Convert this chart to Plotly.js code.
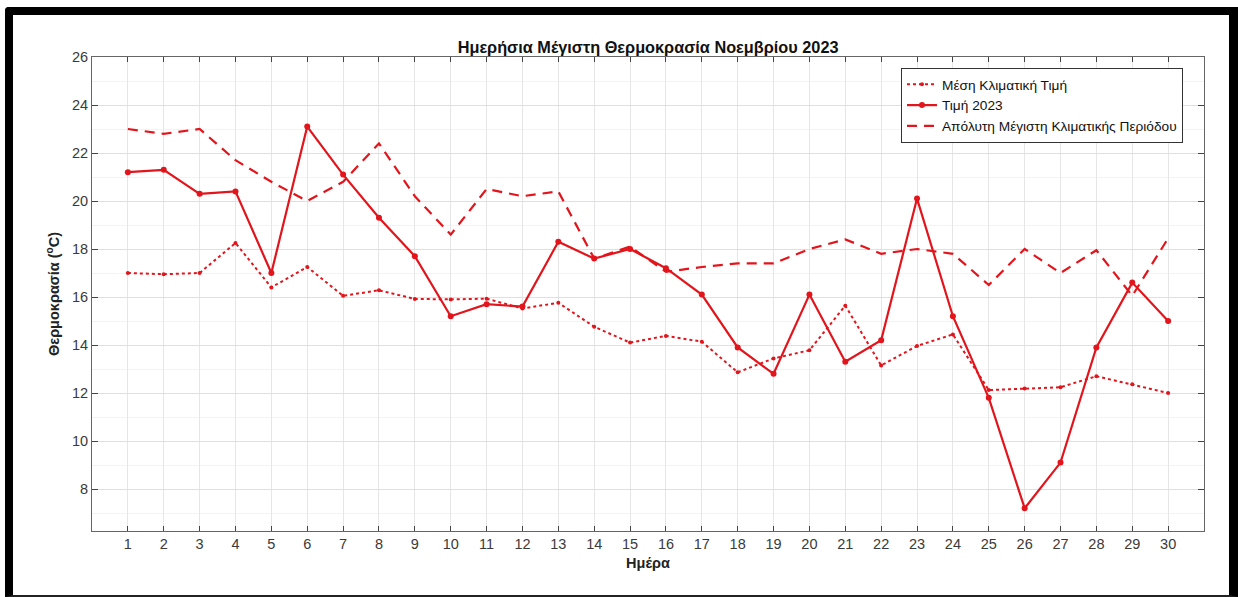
<!DOCTYPE html>
<html>
<head>
<meta charset="utf-8">
<script src="https://cdn.plot.ly/plotly-3.0.1.min.js"></script>
<style>
  html, body { margin: 0; padding: 0; background: #fff; }
  #graph { position: absolute; left: 0; top: 0; width: 1238px; height: 597px; }
  #frame {
    position: absolute; left: 5px; top: 7px; width: 1233px; height: 590px;
    box-sizing: border-box; pointer-events: none;
    border-top: 8px solid #000; border-left: 8px solid #000;
    border-right: 9px solid #000; border-bottom: 2px solid #222;
    border-top-left-radius: 4px;
  }
</style>
</head>
<body>
<div id="graph"></div>
<div id="frame"></div>
<script>
// Ημέρες Νοεμβρίου
var days = [];
for (var d = 1; d <= 30; d++) days.push(d);

var meanClim = [17.0, 16.95, 17.0, 18.25, 16.4, 17.25, 16.05, 16.28, 15.92, 15.9,
                15.93, 15.52, 15.76, 14.76, 14.1, 14.38, 14.14, 12.86, 13.44, 13.78,
                15.64, 13.15, 13.96, 14.44, 12.12, 12.19, 12.24, 12.7, 12.36, 12.0];

var value2023 = [21.2, 21.3, 20.3, 20.4, 17.0, 23.1, 21.1, 19.3, 17.7, 15.2,
                 15.7, 15.6, 18.3, 17.6, 18.0, 17.2, 16.1, 13.9, 12.8, 16.1,
                 13.3, 14.2, 20.1, 15.2, 11.8, 7.2, 9.1, 13.9, 16.6, 15.0];

var absMax = [23.0, 22.8, 23.0, 21.7, 20.8, 20.0, 20.8, 22.4, 20.2, 18.6,
              20.5, 20.2, 20.4, 17.6, 18.1, 17.05, 17.25, 17.4, 17.4, 18.0,
              18.4, 17.8, 18.0, 17.8, 16.5, 18.0, 17.0, 17.95, 16.05, 18.45];

var yTicks = [8, 10, 12, 14, 16, 18, 20, 22, 24, 26];
var yMinor = [7, 9, 11, 13, 15, 17, 19, 21, 23, 25];

var red = '#e2151c';
var fam = 'Liberation Sans, Arial, sans-serif';

var traces = [
    {
        x: days, y: meanClim, name: 'Μέση Κλιματική Τιμή',
        type: 'scatter', mode: 'lines+markers',
        line: { color: red, width: 2, dash: 'dot' },
        marker: { color: red, size: 4 }
    },
    {
        x: days, y: value2023, name: 'Τιμή 2023',
        type: 'scatter', mode: 'lines+markers',
        line: { color: red, width: 2.2 },
        marker: { color: red, size: 6 }
    },
    {
        x: days, y: absMax, name: 'Απόλυτη Μέγιστη Κλιματικής Περιόδου',
        type: 'scatter', mode: 'lines',
        line: { color: red, width: 2.2, dash: '10px,7px' }
    }
];

var axisFont = { family: fam, size: 14.5, color: '#3a3a3a' };

var layout = {
    width: 1238, height: 597,
    margin: { l: 92, r: 34, t: 57, b: 66 },
    paper_bgcolor: '#fff', plot_bgcolor: '#fff',
    showlegend: true,
    title: {
        text: '<b>Ημερήσια Μέγιστη Θερμοκρασία Νοεμβρίου 2023</b>',
        font: { family: fam, size: 16.3, color: '#111' },
        x: 0.5235, xanchor: 'center', y: 0.921, yanchor: 'middle'
    },
    xaxis: {
        range: [0, 31],
        tickvals: days,
        ticktext: days.map(String),
        tickfont: axisFont,
        ticks: 'inside', ticklen: 5, tickcolor: '#444',
        showline: true, linecolor: '#666', linewidth: 1, mirror: 'ticks',
        showgrid: true, gridcolor: '#e6e6e6', gridwidth: 1,
        zeroline: false,
        title: { text: '<b>Ημέρα</b>', font: { family: fam, size: 14.5, color: '#222' }, standoff: 6 }
    },
    yaxis: {
        range: [6.25, 26],
        tickvals: yTicks,
        tickfont: axisFont,
        ticks: 'inside', ticklen: 6, tickcolor: '#444',
        showline: true, linecolor: '#666', linewidth: 1, mirror: 'ticks',
        showgrid: true, gridcolor: '#e0e0e0', gridwidth: 1,
        minor: { tickvals: yMinor, showgrid: true, gridcolor: '#f3f3f3', ticks: '' },
        zeroline: false,
        title: { text: '<b>Θερμοκρασία (<sup>o</sup>C)</b>', font: { family: fam, size: 14.5, color: '#222' }, standoff: 8 }
    },
    legend: {
        x: 0.7275, xanchor: 'left', y: 0.977, yanchor: 'top',
        bgcolor: '#fff', bordercolor: '#333', borderwidth: 1,
        font: { family: fam, size: 13.7, color: '#111' },
        tracegroupgap: 0
    }
};

Plotly.newPlot('graph', traces, layout, { displayModeBar: false, staticPlot: true });
</script>
</body>
</html>
